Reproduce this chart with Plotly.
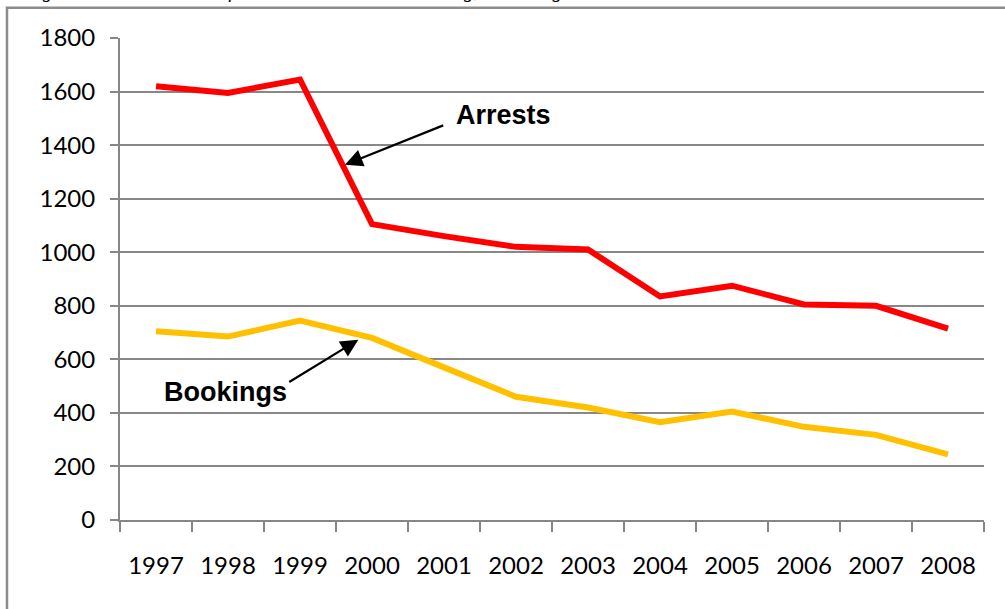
import plotly.graph_objects as go

# Annual counts
years = [1997, 1998, 1999, 2000, 2001, 2002, 2003, 2004, 2005, 2006, 2007, 2008]
arrests = [1620, 1595, 1645, 1105, 1060, 1020, 1010, 835, 875, 805, 800, 715]
bookings = [705, 685, 745, 680, 570, 460, 420, 365, 405, 348, 318, 245]
y_ticks = [0, 200, 400, 600, 800, 1000, 1200, 1400, 1600, 1800]

title_text = "Figure 2. Total Number of Juvenile Arrests and Booking, Anchorage 1997\u20132008"

GRID = "#878787"

fig = go.Figure()
fig.add_trace(go.Scatter(x=years, y=arrests, mode="lines", name="Arrests",
                         line=dict(color="#FF0000", width=6)))
fig.add_trace(go.Scatter(x=years, y=bookings, mode="lines", name="Bookings",
                         line=dict(color="#FFC000", width=6)))

fig.update_layout(
    width=1005, height=609,
    margin=dict(l=120, r=21, t=38, b=89),
    paper_bgcolor="white", plot_bgcolor="white",
    showlegend=False,
    font=dict(family="Lato", size=24, color="black"),
)

fig.update_xaxes(
    range=[years[0] - 0.5, years[-1] + 0.5],
    tickvals=years, ticktext=[str(y) for y in years],
    ticks="", showgrid=False, zeroline=False,
    showline=True, linecolor=GRID, linewidth=2,
    ticklabelstandoff=23,
    minor=dict(tickvals=[y - 0.5 for y in years] + [years[-1] + 0.5],
               ticks="outside", ticklen=10, tickwidth=2, tickcolor=GRID,
               showgrid=False),
)
fig.update_yaxes(
    range=[0, 1800], tickvals=y_ticks,
    ticks="outside", ticklen=8, tickwidth=2, tickcolor=GRID,
    showgrid=True, gridcolor=GRID, gridwidth=2,
    zeroline=False, showline=True, linecolor=GRID, linewidth=2,
    ticklabelstandoff=10,
)

# Outer chart border (extends past the right and bottom edges)
fig.add_shape(type="rect", xref="paper", yref="paper",
              x0=-0.1308, x1=1.2, y0=-0.4, y1=1.0629,
              line=dict(color="#8C8C8C", width=2.5), fillcolor="rgba(0,0,0,0)",
              layer="below")

# Caption above the chart
fig.add_annotation(text="<i>" + title_text + "</i>", xref="paper", yref="paper",
                   x=-0.112, y=1.0735, xanchor="left", yanchor="bottom",
                   showarrow=False, borderpad=0,
                   font=dict(family="Liberation Serif", size=20, color="black"))

label_font = dict(family="Liberation Sans", size=27, color="black")

# Series labels with pointer arrows
fig.add_annotation(text="<b>Arrests</b>", x=2001.83, y=1513, showarrow=False,
                   font=label_font)
fig.add_annotation(text="", x=1999.625, y=1327, ax=2001.01, ay=1476,
                   axref="x", ayref="y", showarrow=True,
                   arrowhead=2, arrowsize=1.6, arrowwidth=2.2, arrowcolor="black")

fig.add_annotation(text="<b>Bookings</b>", x=1997.96, y=478, showarrow=False,
                   font=label_font)
fig.add_annotation(text="", x=1999.81, y=673, ax=1998.83, ay=512,
                   axref="x", ayref="y", showarrow=True,
                   arrowhead=2, arrowsize=1.6, arrowwidth=2.2, arrowcolor="black")

fig.write_html("out.html")
